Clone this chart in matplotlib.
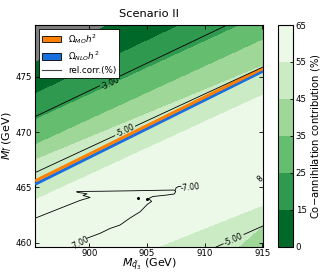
import numpy as np
import matplotlib
matplotlib.use("Agg")
import matplotlib.pyplot as plt
from matplotlib.patches import Patch
from matplotlib.lines import Line2D

# plot window (GeV)
mq_range = [895.3, 915.05]
ml_range = [459.64, 479.67]

# co-annihilation contribution (%): value on each band edge and the
# M_l of that edge at the left / right border of the window
co_values = [35, 45, 55, 60, 55, 45, 35, 25, 15, 0, -10]
co_ml_left = [433.6, 443.6, 455.21, 459.5, 463.86, 467.47, 468.83, 471.09, 473.44, 476.24, 481.24]
co_ml_right = [451.6, 461.6, 463.41, 468.4, 473.35, 475.97, 478.31, 480.6, 483.2, 486.9, 491.9]
co_levels = [0, 15, 25, 35, 45, 55, 65]

# Omega h^2 = observed, MO and NLO
relic_mq = [895.3, 915.05]
relic_mo_ml = [465.58, 475.76]
relic_nlo_ml = [465.28, 475.51]

# rel.corr.(%) contours (nan = gap for the label)
c3_mq = [895.3, 900.9, np.nan, 902.7, 912.5]
c3_ml = [471.39, 474.18, np.nan, 475.08, 479.95]
c5a_mq = [895.3, 902.2, np.nan, 904.0, 915.05]
c5a_ml = [466.33, 469.67, np.nan, 470.54, 475.88]
c5b_mq = [910.8, 911.6, np.nan, 913.4, 915.1]
c5b_ml = [459.52, 459.9, np.nan, 460.75, 461.54]
c7_mq = [895.3, 897.47, 899.20, 900.07, 899.46, 899.81, 898.94, 898.92, 900.94, 903.54,
         906.14, 907.36, 907.49, 907.36, 906.57, 905.53, 905.14, 905.40, 905.01, 904.41,
         903.54, 902.67, 901.80, 900.94, 899.78]
c7_ml = [462.21, 463.11, 463.82, 464.09, 464.27, 464.42, 464.56, 464.63, 464.65, 464.69,
         464.74, 464.76, 464.63, 464.40, 464.29, 464.18, 464.00, 463.73, 463.45, 462.80,
         462.24, 461.60, 461.29, 460.85, 460.40]
c7_hook_mq = [907.94, 907.73, 907.51, 907.47]
c7_hook_ml = [465.10, 465.08, 464.95, 464.76]
c7_dots_mq = [904.26, 904.99]
c7_dots_ml = [464.02, 463.93]
c7_loops_mq = [914.62, 914.78]
c7_loops_ml = [465.95, 465.78]

# label text, position, angle
clabels = ["-3.00", "-5.00", "-5.00", "-7.00", "-7.00"]
clabel_mq = [901.8, 903.1, 912.5, 899.2, 908.7]
clabel_ml = [474.35, 470.1, 460.32, 459.95, 464.95]
clabel_rot = [25.6, 24.9, 24.3, 28, 6]

MO_COLOR = "#ff7f00"
NLO_COLOR = "#1a6fdf"

mq = np.linspace(*mq_range, 400)
ml = np.linspace(*ml_range, 400)
frac = (mq - mq_range[0]) / (mq_range[1] - mq_range[0])
edges = np.array(co_ml_left)[:, None] + (np.array(co_ml_right) - np.array(co_ml_left))[:, None] * frac
field = np.empty((ml.size, mq.size))
for j in range(mq.size):
    field[:, j] = np.interp(ml, edges[:, j], co_values)

fig = plt.figure(figsize=(3.25, 2.74), dpi=100)
ax = fig.add_axes([0.1077, 0.0996, 0.7015, 0.809])
cax = fig.add_axes([0.855, 0.0996, 0.046, 0.809])
ax.set_facecolor("#808080")

cs = ax.contourf(mq, ml, field, levels=co_levels, cmap="Greens_r", antialiased=False)

ax.plot(relic_mq, relic_nlo_ml, color=NLO_COLOR, lw=2.2, solid_capstyle="butt", zorder=3)
ax.plot(relic_mq, relic_mo_ml, color=MO_COLOR, lw=2.2, solid_capstyle="butt", zorder=3)

line_kw = dict(color="black", lw=0.6, zorder=4)
for xs, ys in [(c3_mq, c3_ml), (c5a_mq, c5a_ml), (c5b_mq, c5b_ml),
               (c7_mq, c7_ml), (c7_hook_mq, c7_hook_ml)]:
    ax.plot(xs, ys, **line_kw)
ax.plot(c7_dots_mq, c7_dots_ml, "o", ms=1.2, color="black", zorder=4)
ax.plot(c7_loops_mq, c7_loops_ml, "o", ms=2.2, mfc="none", mec="black", mew=0.5, zorder=4)
for t, x, y, r in zip(clabels, clabel_mq, clabel_ml, clabel_rot):
    ax.text(x, y, t, fontsize=5.5, rotation=r, rotation_mode="anchor",
            ha="center", va="center", zorder=5)

ax.set_xlim(mq_range)
ax.set_ylim(ml_range)
ax.set_xticks([900, 905, 910, 915])
ax.set_yticks([460, 465, 470, 475])
ax.tick_params(direction="in", top=True, right=True, labelsize=6.2, length=3, width=0.6, pad=2)
ax.set_xlabel(r"$M_{\tilde{q}_3}$ (GeV)", fontsize=8, labelpad=-1)
ax.set_ylabel(r"$M_{\tilde{l}}$ (GeV)", fontsize=8, labelpad=1)
ax.set_title("Scenario II", fontsize=8.2, pad=6)
for s in ax.spines.values():
    s.set_linewidth(0.8)

handles = [Patch(facecolor=MO_COLOR, edgecolor="black", lw=0.6),
           Patch(facecolor=NLO_COLOR, edgecolor="black", lw=0.6),
           Line2D([], [], color="#444444", lw=0.8)]
labels = [r"$\Omega_{MO}h^2$", r"$\Omega_{NLO}h^2$", "rel.corr.(%)"]
leg = ax.legend(handles, labels, loc="upper left", fontsize=6.3, fancybox=False,
                edgecolor="black", framealpha=1, borderaxespad=0.45,
                handlelength=2.2, handleheight=0.8, labelspacing=0.38, borderpad=0.32)
leg.get_frame().set_linewidth(0.6)
leg.set_zorder(10)

cb = fig.colorbar(cs, cax=cax)
cb.set_ticks(co_levels)
cb.ax.tick_params(labelsize=6.2, direction="in", length=2.5, width=0.6, pad=2)
cb.outline.set_linewidth(0.8)
cb.set_label("Co$-$annihilation contribution (%)", fontsize=7.2, labelpad=2)

fig.savefig("out.png", dpi=100)
